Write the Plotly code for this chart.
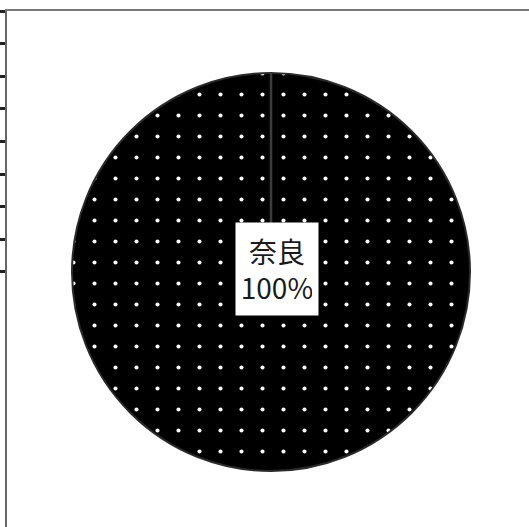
import plotly.graph_objects as go

# ---- data ----
labels = ["奈良"]
values = [100]
y_ticks = [0, 1, 2, 3, 4, 5, 6, 7, 8]

# ---- layout constants ----
W, H = 529, 527
M_L, M_T = 7, 11
plot_w, plot_h = W - M_L, H - M_T
cx_px, cy_px, r_px = 271, 272, 199
cx = (cx_px - M_L) / plot_w
cy = (H - cy_px) / plot_h
rx = r_px / plot_w
ry = r_px / plot_h

total = sum(values)
pct = round(100 * values[0] / total)

fig = go.Figure()
# empty cartesian trace so the frame axes are drawn
fig.add_trace(go.Scatter(x=[], y=[], showlegend=False, hoverinfo="skip"))
fig.add_trace(go.Pie(
    labels=labels,
    values=values,
    sort=False,
    direction="clockwise",
    rotation=0,
    textinfo="none",
    showlegend=False,
    domain=dict(x=[cx - rx, cx + rx], y=[cy - ry, cy + ry]),
    marker=dict(
        colors=["#000000"],
        line=dict(color="#2a2a2a", width=2),
        pattern=dict(shape=".", fgcolor="#ffffff", bgcolor="#000000",
                     size=21, solidity=0.03, fillmode="replace"),
    ),
))

# slice boundary from the centre to 12 o'clock
fig.add_shape(type="line", xref="paper", yref="paper",
              x0=cx, y0=cy, x1=cx, y1=cy + ry,
              line=dict(color="#3c3c3c", width=2.5), layer="above")

fig.add_annotation(
    x=cx, y=cy, xref="paper", yref="paper",
    text=f"{labels[0]}<br>{pct}%",
    showarrow=False,
    xshift=6, yshift=3,
    width=70, height=80,
    bgcolor="#ffffff", borderpad=6,
    font=dict(family="Liberation Sans Narrow, Noto Sans CJK JP", size=28, color="#1a1a1a"),
)

fig.update_layout(
    width=W, height=H,
    margin=dict(l=M_L, r=0, t=M_T, b=0, pad=0),
    paper_bgcolor="#ffffff", plot_bgcolor="#ffffff",
    showlegend=False,
    xaxis=dict(side="top", range=[0, 1], showline=True, linecolor="#777777", linewidth=2,
               showgrid=False, zeroline=False, showticklabels=False, ticks="", fixedrange=True),
    yaxis=dict(range=[plot_h / 32.6, 0], showline=True, linecolor="#666666", linewidth=1.5,
               showgrid=False, zeroline=False, showticklabels=False,
               ticks="outside", ticklen=7, tickwidth=2.5, tickcolor="#222222",
               tickmode="array", tickvals=y_ticks, fixedrange=True),
)

fig.write_html("out.html",
               config={"displayModeBar": False},
               post_script="document.body.style.margin='0';document.body.style.padding='0';")
